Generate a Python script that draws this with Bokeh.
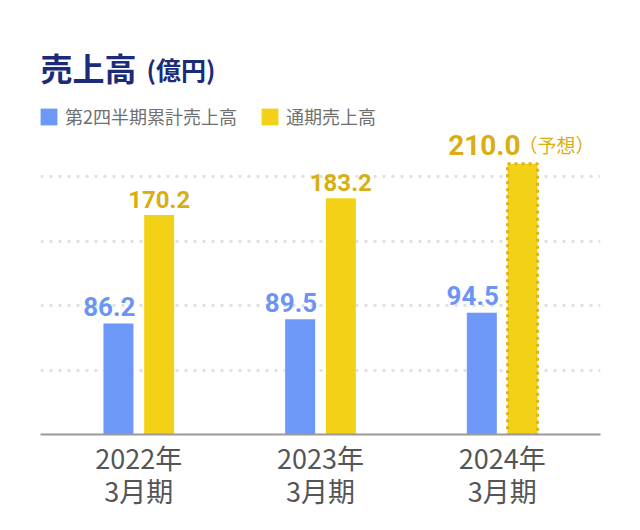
from bokeh.plotting import figure
from bokeh.models import (ColumnDataSource, Range1d, FixedTicker, Label, Legend,
                          LegendItem, CDSView, BooleanFilter)
from bokeh.transform import dodge
from bokeh.core.properties import value
from bokeh.embed import file_html
from bokeh.resources import INLINE

# ---------------- data ----------------
years = ["2022年", "2023年", "2024年"]
periods = ["3月期", "3月期", "3月期"]
q2_sales = [86.2, 89.5, 94.5]          # 第2四半期累計売上高
full_sales = [170.2, 183.2, 210.0]     # 通期売上高
is_forecast = [False, False, True]
grid_ticks = [50, 100, 150, 200]
series_names = ["第2四半期累計売上高", "通期売上高"]
title_main = "売上高"
title_unit = "(億円)"
forecast_note = "（予想）"

# ---------------- style ----------------
BLUE = "#6e98f8"
BLUE_TXT = "#6b95f5"
YELLOW = "#f2d116"
YELLOW_TXT = "#d9ae12"
YELLOW_EDGE = "#e0b314"
NAVY = "#1b2b7a"
CJK = "Noto Sans CJK JP"
NUM = "Roboto"

W, H = 636, 526
FRAME_L, FRAME_R = 40, 600
BASE_Y = 434          # page y of baseline
PX_PER_UNIT = 1.289   # vertical scale
Y_END = BASE_Y / PX_PER_UNIT
X_START, X_END = -0.541, 2.541
OFF = 0.112
BAR_W = 0.165


def y_at(page_y):
    return (BASE_Y - page_y) / PX_PER_UNIT


idx = list(range(len(years)))
src = ColumnDataSource(dict(
    x=idx,
    q2=q2_sales,
    full=full_sales,
    q2_txt=[f"{v:.1f}" for v in q2_sales],
    full_txt=[f"{v:.1f}" for v in full_sales],
    note=[forecast_note] * len(years),
))
actual_view = CDSView(filter=BooleanFilter([not f for f in is_forecast]))
fc_view = CDSView(filter=BooleanFilter(is_forecast))

p = figure(width=W, height=H,
           x_range=Range1d(X_START, X_END), y_range=Range1d(0, Y_END),
           output_backend="svg", toolbar_location=None,
           y_axis_location=None,
           min_border_left=FRAME_L, min_border_right=W - FRAME_R,
           min_border_top=0, min_border_bottom=H - BASE_Y)
p.outline_line_color = None
p.xgrid.visible = False
p.ygrid.ticker = FixedTicker(ticks=grid_ticks)
p.ygrid.grid_line_color = "#e1e1e1"
p.ygrid.grid_line_width = 3
p.ygrid.grid_line_dash = "3 6"

# x axis with two-line category labels
p.xaxis.ticker = FixedTicker(ticks=idx)
p.xaxis.major_label_overrides = {i: f"{y}\n{m}" for i, y, m in zip(idx, years, periods)}
p.xaxis.major_tick_line_color = None
p.xaxis.minor_tick_line_color = None
p.xaxis.axis_line_color = "#999999"
p.xaxis.axis_line_width = 2
p.xaxis.major_label_text_font = CJK
p.xaxis.major_label_text_font_size = "27px"
p.xaxis.major_label_text_line_height = 0.86
p.xaxis.major_label_text_color = "#555555"
p.xaxis.major_label_standoff = -3

# bars
blue_r = p.vbar(x=dodge("x", -OFF, range=p.x_range), top="q2", width=BAR_W,
                source=src, fill_color=BLUE, line_color=None)
yel_r = p.vbar(x=dodge("x", OFF, range=p.x_range), top="full", width=BAR_W,
               source=src, fill_color=YELLOW, line_color=None)
p.vbar(x=dodge("x", OFF, range=p.x_range), top="full", width=BAR_W,
       source=src, view=fc_view, fill_color=None, line_color=YELLOW_EDGE,
       line_width=3, line_dash="3 4")

# value labels
p.text(x=dodge("x", -OFF + BAR_W / 2, range=p.x_range), y="q2", text="q2_txt",
       source=src, text_align="right", text_baseline="middle",
       x_offset=2, y_offset=-17, text_color=BLUE_TXT,
       text_font=value(NUM), text_font_style="bold", text_font_size="26px")
p.text(x=dodge("x", OFF, range=p.x_range), y="full", text="full_txt",
       source=src, view=actual_view, text_align="center", text_baseline="middle",
       y_offset=-16, text_color=YELLOW_TXT,
       text_font=value(NUM), text_font_style="bold", text_font_size="24px")
p.text(x=dodge("x", OFF, range=p.x_range), y="full", text="full_txt",
       source=src, view=fc_view, text_align="right", text_baseline="middle",
       x_offset=-2, y_offset=-19, text_color=YELLOW_TXT,
       text_font=value(NUM), text_font_style="bold", text_font_size="28px")
p.text(x=dodge("x", OFF, range=p.x_range), y="full", text="note",
       source=src, view=fc_view, text_align="left", text_baseline="middle",
       x_offset=-4, y_offset=-19, text_color=YELLOW_TXT,
       text_font=value(CJK), text_font_size="19px")

# title
p.add_layout(Label(x=X_START, y=y_at(66), text=title_main, text_font=CJK,
                   text_font_size="32px", text_font_style="bold", text_color=NAVY,
                   text_baseline="middle"))
p.add_layout(Label(x=X_START, y=y_at(68), x_offset=106, text=title_unit, text_font=CJK,
                   text_font_size="25px", text_font_style="bold", text_color=NAVY,
                   text_baseline="middle"))

# legend
legend = Legend(items=[LegendItem(label=series_names[0], renderers=[blue_r]),
                       LegendItem(label=series_names[1], renderers=[yel_r])],
                orientation="horizontal", location=(-2, BASE_Y - 129),
                glyph_width=21, glyph_height=21, label_standoff=6, spacing=22,
                padding=0, margin=0, border_line_color=None,
                background_fill_alpha=0,
                label_text_font=CJK, label_text_font_size="18px",
                label_text_color="#707070")
p.add_layout(legend)

open("out.html", "w").write(file_html(p, INLINE))
